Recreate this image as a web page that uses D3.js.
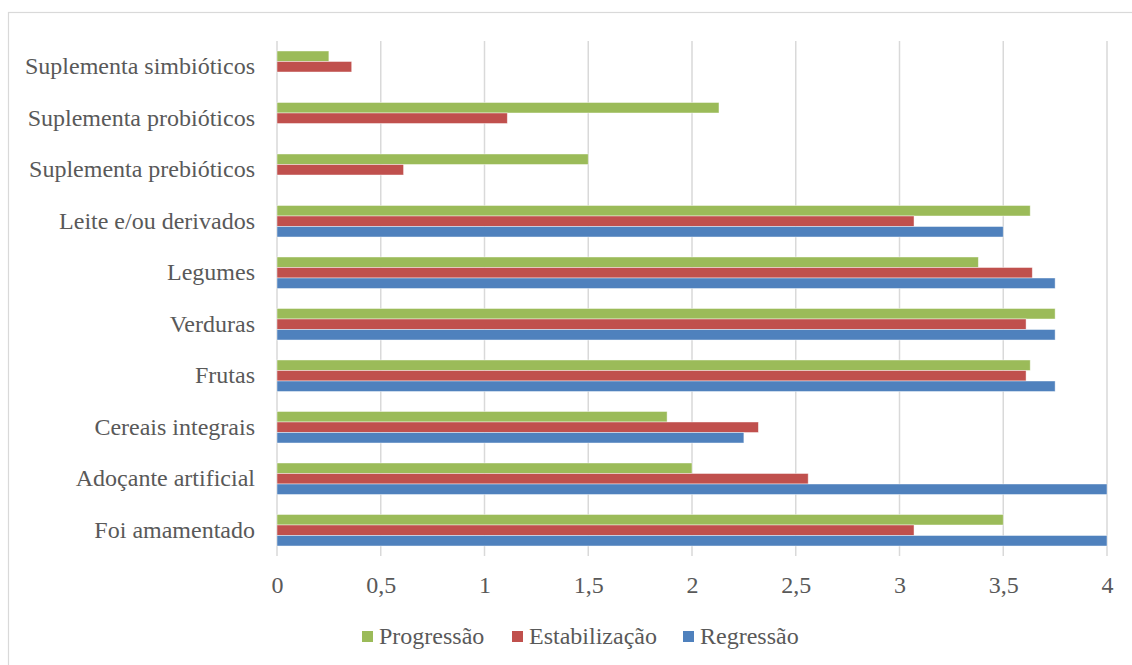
<!DOCTYPE html>
<html>
<head>
<meta charset="utf-8">
<script src="https://cdn.jsdelivr.net/npm/d3@7"></script>
<style>
  html, body { margin: 0; padding: 0; background: #fff; }
  svg { display: block; }
</style>
</head>
<body>
<svg id="chart" width="1132" height="665"></svg>
<script>
// Categories, listed top to bottom as drawn
const categories = [
  "Suplementa simbióticos",
  "Suplementa probióticos",
  "Suplementa prebióticos",
  "Leite e/ou derivados",
  "Legumes",
  "Verduras",
  "Frutas",
  "Cereais integrais",
  "Adoçante artificial",
  "Foi amamentado"
];

// Series values per category (same order as categories)
const progressao    = [0.25, 2.13, 1.50, 3.63, 3.38, 3.75, 3.63, 1.88, 2.00, 3.50];
const estabilizacao = [0.36, 1.11, 0.61, 3.07, 3.64, 3.61, 3.61, 2.32, 2.56, 3.07];
const regressao     = [0,    0,    0,    3.50, 3.75, 3.75, 3.75, 2.25, 4.00, 4.00];

const seriesNames  = ["Progressão", "Estabilização", "Regressão"];
const seriesValues = [progressao, estabilizacao, regressao];
const seriesColors = ["#9BBB59", "#C0504D", "#4F81BD"];

const xTicks = [0, 0.5, 1, 1.5, 2, 2.5, 3, 3.5, 4];

const FONT = '"Liberation Serif", "Times New Roman", Times, "DejaVu Serif", serif';
const TEXT_COLOR = "#595959";

const svg = d3.select("#chart");

// outer chart frame
svg.append("rect")
  .attr("x", 8.5).attr("y", 12.5)
  .attr("width", 1140).attr("height", 670)
  .attr("fill", "none")
  .attr("stroke", "#d9d9d9")
  .attr("stroke-width", 1.2);

const plot = { left: 277, right: 1107, top: 41, bottom: 556 };

const x = d3.scaleLinear().domain([0, 4]).range([plot.left, plot.right]);
const y = d3.scaleBand().domain(categories).range([plot.top, plot.bottom]).paddingInner(0.388).paddingOuter(0.194);
const ySub = d3.scaleBand().domain(seriesNames).range([0, y.bandwidth()]);

// vertical gridlines
svg.append("g")
  .selectAll("line")
  .data(xTicks)
  .join("line")
  .attr("x1", d => x(d)).attr("x2", d => x(d))
  .attr("y1", plot.top).attr("y2", plot.bottom)
  .attr("stroke", "#d9d9d9")
  .attr("stroke-width", 1.5);

// bars
const rows = [];
categories.forEach((c, i) => {
  seriesNames.forEach((s, j) => {
    rows.push({ cat: c, series: s, value: seriesValues[j][i], color: seriesColors[j] });
  });
});

svg.append("g")
  .selectAll("rect")
  .data(rows.filter(d => d.value > 0))
  .join("rect")
  .attr("x", x(0))
  .attr("y", d => y(d.cat) + ySub(d.series))
  .attr("width", d => x(d.value) - x(0))
  .attr("height", ySub.bandwidth())
  .attr("fill", d => d.color)
  .attr("stroke", "rgba(255,255,255,0.55)")
  .attr("stroke-width", 0.8);

// category labels
const yAxis = d3.axisLeft(y).tickSize(0).tickPadding(22);
const yg = svg.append("g").attr("transform", `translate(${plot.left},0)`).call(yAxis);
yg.select(".domain").remove();
yg.attr("font-family", FONT).attr("font-size", 24);
yg.selectAll("text")
  .attr("font-family", FONT)
  .attr("font-size", 24)
  .attr("dy", "0.32em")
  .attr("fill", TEXT_COLOR);

// value axis labels
const xAxis = d3.axisBottom(x).tickValues(xTicks).tickSize(0).tickPadding(37)
  .tickFormat(d => String(d).replace(".", ","));
const xg = svg.append("g").attr("transform", `translate(0,${plot.bottom})`).call(xAxis);
xg.select(".domain").remove();
xg.attr("font-family", FONT).attr("font-size", 24);
xg.selectAll("text")
  .attr("font-family", FONT)
  .attr("font-size", 24)
  .attr("dy", "0")
  .attr("fill", TEXT_COLOR);

// legend
const legendX = [362, 512, 683];
const legend = svg.append("g");
seriesNames.forEach((s, j) => {
  const g = legend.append("g").attr("transform", `translate(${legendX[j]},631)`);
  g.append("rect").attr("width", 11).attr("height", 11).attr("fill", seriesColors[j]);
  g.append("text")
    .attr("x", 17).attr("y", 12.5)
    .attr("font-family", FONT)
    .attr("font-size", 24)
    .attr("fill", TEXT_COLOR)
    .text(s);
});
</script>
</body>
</html>
